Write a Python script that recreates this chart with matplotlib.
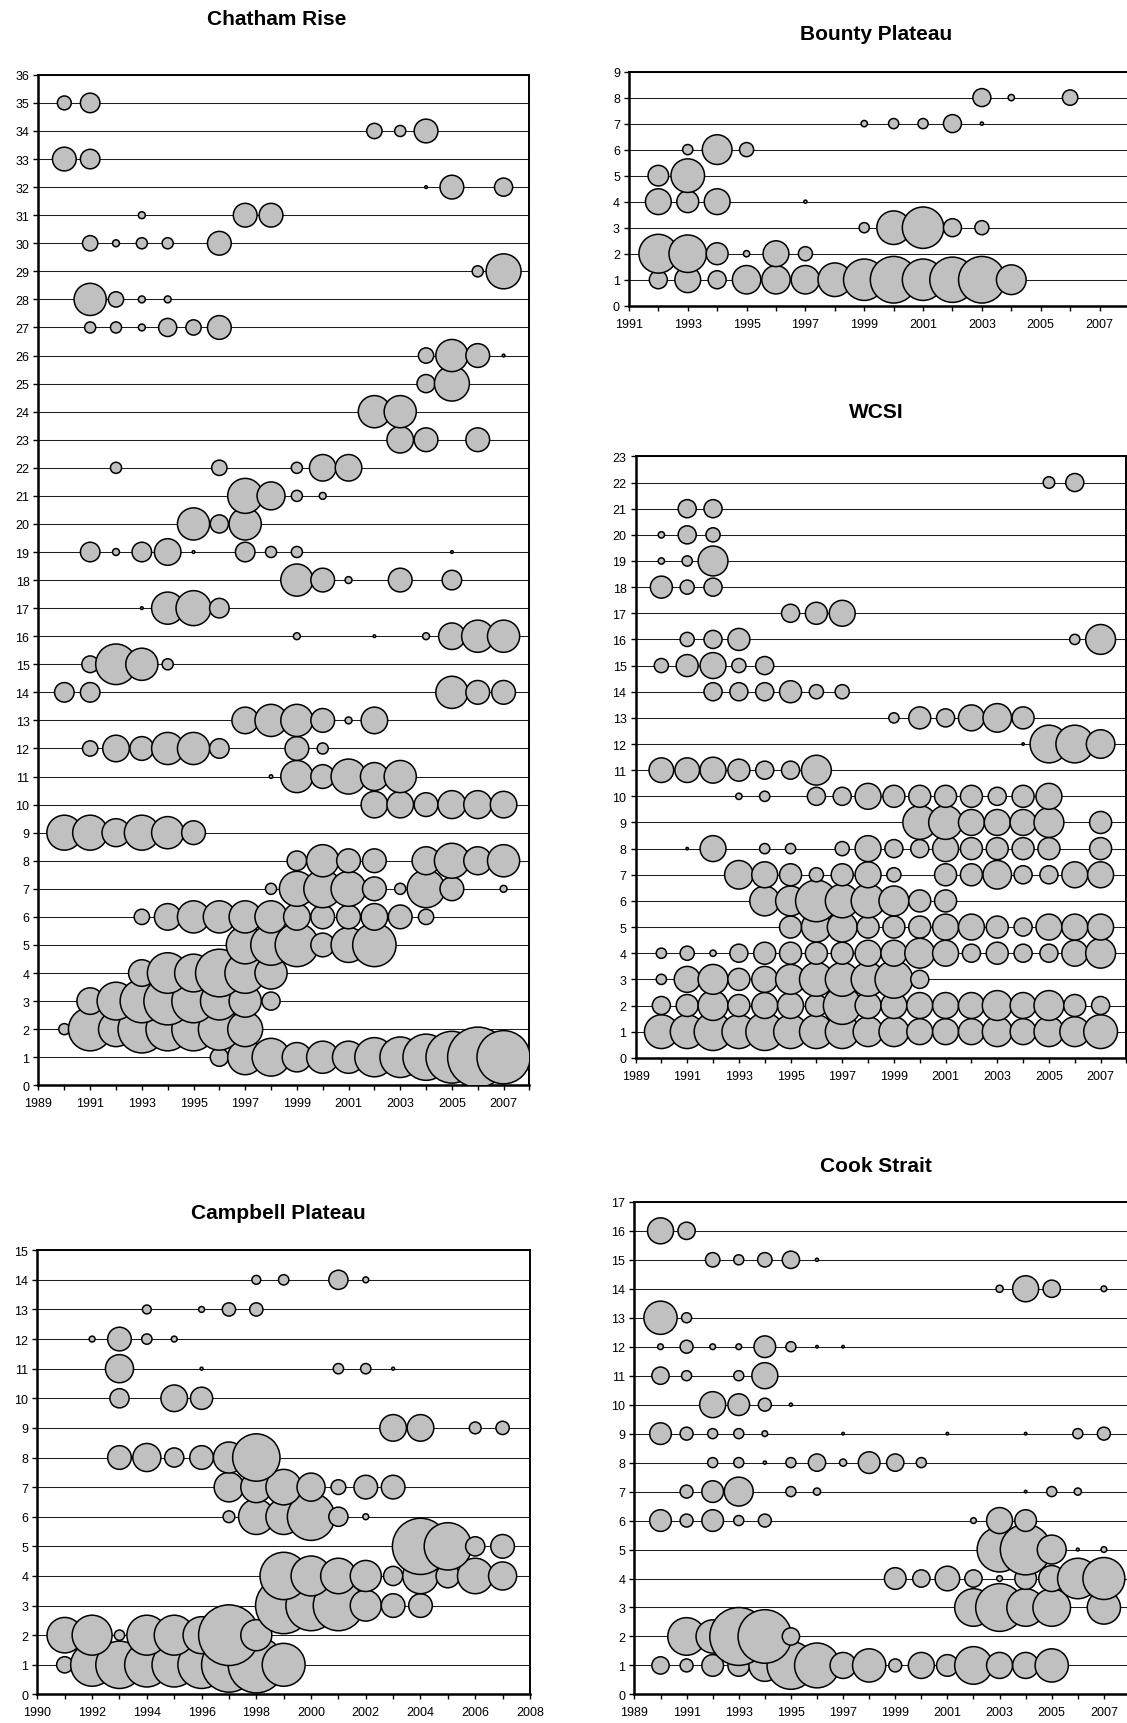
import matplotlib
matplotlib.use("Agg")
import matplotlib.pyplot as plt
from matplotlib.ticker import FixedLocator, FuncFormatter

plt.rcParams['font.family'] = ['Liberation Sans', 'DejaVu Sans']

DPI = 100
FILL = '#c0c0c0'
EDGE_LW = 1.1  # bubble outline, points

# ---------------------------------------------------------------------------
# Data: for each fishery, one list per vessel (vessel 1 first) giving the
# years fished and the relative catch (bubble width, tenths of a row).
# ---------------------------------------------------------------------------

chatham_years = [
    [1996, 1997, 1998, 1999, 2000, 2001, 2002, 2003, 2004, 2005, 2006, 2007],
    [1990, 1991, 1992, 1993, 1994, 1995, 1996, 1997],
    [1991, 1992, 1993, 1994, 1995, 1996, 1997, 1998],
    [1993, 1994, 1995, 1996, 1997, 1998],
    [1997, 1998, 1999, 2000, 2001, 2002],
    [1993, 1994, 1995, 1996, 1997, 1998, 1999, 2000, 2001, 2002, 2003, 2004],
    [1998, 1999, 2000, 2001, 2002, 2003, 2004, 2005, 2007],
    [1999, 2000, 2001, 2002, 2004, 2005, 2006, 2007],
    [1990, 1991, 1992, 1993, 1994, 1995],
    [2002, 2003, 2004, 2005, 2006, 2007],
    [1998, 1999, 2000, 2001, 2002, 2003],
    [1991, 1992, 1993, 1994, 1995, 1996, 1999, 2000],
    [1997, 1998, 1999, 2000, 2001, 2002],
    [1990, 1991, 2005, 2006, 2007],
    [1991, 1992, 1993, 1994],
    [1999, 2002, 2004, 2005, 2006, 2007],
    [1993, 1994, 1995, 1996],
    [1999, 2000, 2001, 2003, 2005],
    [1991, 1992, 1993, 1994, 1995, 1997, 1998, 1999, 2005],
    [1995, 1996, 1997],
    [1997, 1998, 1999, 2000],
    [1992, 1996, 1999, 2000, 2001],
    [2003, 2004, 2006],
    [2002, 2003],
    [2004, 2005],
    [2004, 2005, 2006, 2007],
    [1991, 1992, 1993, 1994, 1995, 1996],
    [1991, 1992, 1993, 1994],
    [2006, 2007],
    [1991, 1992, 1993, 1994, 1996],
    [1993, 1997, 1998],
    [2004, 2005, 2007],
    [1990, 1991],
    [2002, 2003, 2004],
    [1990, 1991],
]
chatham_catch = [
    [7, 13, 14, 11, 12, 12, 14.5, 15, 17, 19, 22, 19.5],
    [4.5, 16, 13, 17.5, 16, 16, 15.5, 13],
    [10, 14, 16, 17.5, 16, 14, 12, 7],
    [10, 15, 14, 17.5, 15, 12],
    [14, 15, 16, 9, 13, 16],
    [6, 10, 12, 12, 12, 12, 10, 9, 9, 10, 9, 6],
    [4.5, 13, 14, 13, 9, 4.5, 14, 9, 3],
    [7.5, 12, 9, 9, 10.5, 13, 10.5, 12],
    [13, 13, 10.5, 13, 12, 9],
    [10, 10, 9, 10.5, 10.5, 10],
    [1.8, 12, 9, 13, 10.5, 12],
    [6, 10, 9, 12, 12, 7.5, 9, 4.5],
    [10, 12, 12, 9, 3, 10],
    [7.5, 7.5, 12, 9, 9],
    [6.5, 15, 12, 4.5],
    [3, 1.5, 3, 10, 12, 12],
    [1.5, 12, 13, 7.5],
    [12, 9, 3, 9, 7.5],
    [7.5, 3, 7.5, 10, 1.5, 7.5, 4.5, 4.5, 1.5],
    [12, 7, 12],
    [13, 10.5, 4.5, 3],
    [4.5, 6, 4.5, 10, 10],
    [10, 9, 9],
    [12, 12],
    [7, 13],
    [6, 12, 9, 1.5],
    [4.5, 4.5, 3, 7, 6, 9],
    [12, 6, 3, 3],
    [4.5, 13],
    [6, 3, 4.5, 4.5, 9],
    [3, 9, 9],
    [1.5, 9, 7],
    [9, 7.5],
    [6, 4.5, 9],
    [5.5, 7.5],
]

bounty_years = [
    [1992, 1993, 1994, 1995, 1996, 1997, 1998, 1999, 2000, 2001, 2002, 2003, 2004],
    [1992, 1993, 1994, 1995, 1996, 1997],
    [1999, 2000, 2001, 2002, 2003],
    [1992, 1993, 1994, 1997],
    [1992, 1993],
    [1993, 1994, 1995],
    [1999, 2000, 2001, 2002, 2003],
    [2003, 2004, 2006],
]
bounty_catch = [
    [7.5, 10.5, 7.5, 11.5, 11.5, 11.5, 13.5, 16.5, 18.5, 16.5, 18, 18.5, 12],
    [15.5, 15, 9, 3, 10.5, 6],
    [4.5, 13.5, 16.5, 7.5, 6],
    [10.5, 9, 10.5, 1.8],
    [8.5, 13.5],
    [4.5, 12, 6],
    [3, 4.5, 4.5, 7.5, 1.8],
    [7.5, 3, 6.5],
]

wcsi_years = [
    list(range(1990, 2008)),
    list(range(1990, 2008)),
    list(range(1990, 2001)),
    list(range(1990, 2008)),
    list(range(1995, 2008)),
    list(range(1994, 2002)),
    [1993, 1994, 1995, 1996, 1997, 1998, 1999, 2001, 2002, 2003, 2004, 2005, 2006, 2007],
    [1991, 1992, 1994, 1995, 1997, 1998, 1999, 2000, 2001, 2002, 2003, 2004, 2005, 2007],
    [2000, 2001, 2002, 2003, 2004, 2005, 2007],
    [1993, 1994, 1996, 1997, 1998, 1999, 2000, 2001, 2002, 2003, 2004, 2005],
    [1990, 1991, 1992, 1993, 1994, 1995, 1996],
    [2004, 2005, 2006, 2007],
    [1999, 2000, 2001, 2002, 2003, 2004],
    [1992, 1993, 1994, 1995, 1996, 1997],
    [1990, 1991, 1992, 1993, 1994],
    [1991, 1992, 1993, 2006, 2007],
    [1995, 1996, 1997],
    [1990, 1991, 1992],
    [1990, 1991, 1992],
    [1990, 1991, 1992],
    [1991, 1992],
    [2005, 2006],
]
wcsi_catch = [
    [13.5, 13.5, 15, 13.5, 15, 13.5, 13.5, 13.5, 12, 12, 10.5, 10.5, 10.5, 12, 10.5, 12, 12, 13.5],
    [7.5, 9, 12, 9, 10.5, 10.5, 9, 15, 10.5, 10.5, 10.5, 10.5, 10.5, 12, 10.5, 12, 9, 7.5],
    [4.5, 10.5, 12, 9, 10.5, 12, 13.5, 13.5, 13.5, 15, 7.5],
    [4.5, 6, 3, 7.5, 9, 9, 9, 9, 10.5, 10.5, 12, 10.5, 7.5, 9, 7.5, 7.5, 10.5, 12],
    [9, 12, 12, 9, 9, 9, 10.5, 10.5, 9, 7.5, 10.5, 10.5, 10.5],
    [12, 12, 16.5, 13.5, 13.5, 12, 9, 9],
    [11.5, 10.5, 9, 6, 9, 10.5, 6, 9, 9, 11.5, 7.5, 7.5, 10.5, 10.5],
    [1.5, 10.5, 4.5, 4.5, 6, 10.5, 7.5, 7.5, 10.5, 9, 9, 9, 9, 9],
    [13.5, 13.5, 10.5, 10.5, 10.5, 12, 9],
    [3, 4.5, 7.5, 7.5, 10.5, 9, 9, 9, 9, 7.5, 9, 10.5],
    [10, 10, 10.5, 9, 7.5, 7.5, 12],
    [1.5, 15, 15, 11.5],
    [4.5, 9, 7.5, 10.5, 11.5, 9],
    [7.5, 7.5, 7.5, 9, 6, 6],
    [6, 9, 10.5, 6, 7.5],
    [6, 7.5, 9, 4.5, 12],
    [7.5, 9, 10.5],
    [9, 6, 7.5],
    [3, 4.5, 12],
    [3, 7.5, 6],
    [7.5, 7.5],
    [5, 7.5],
]

campbell_years = [
    [1991, 1992, 1993, 1994, 1995, 1996, 1997, 1998, 1999],
    [1991, 1992, 1993, 1994, 1995, 1996, 1997, 1998],
    [1999, 2000, 2001, 2002, 2003, 2004],
    [1999, 2000, 2001, 2002, 2003, 2004, 2005, 2006, 2007],
    [2004, 2005, 2006, 2007],
    [1997, 1998, 1999, 2000, 2001, 2002],
    [1997, 1998, 1999, 2000, 2001, 2002, 2003],
    [1993, 1994, 1995, 1996, 1997, 1998],
    [2003, 2004, 2006, 2007],
    [1993, 1995, 1996],
    [1993, 1996, 2001, 2002, 2003],
    [1992, 1993, 1994, 1995],
    [1994, 1996, 1997, 1998],
    [1998, 1999, 2001, 2002],
]
campbell_catch = [
    [6, 15, 16.5, 15.5, 15.5, 16.5, 19, 19.5, 15],
    [12.5, 14, 4, 14, 14, 13, 21, 11],
    [19.5, 17.5, 17.5, 11, 8.5, 8.5],
    [16.5, 14, 12.5, 11, 7, 12.5, 8.5, 12.5, 10],
    [19.5, 16.5, 7, 8.5],
    [4.5, 12.5, 12.5, 16.5, 7, 2.5],
    [10.5, 11, 12.5, 10, 5.5, 8.5, 8.5],
    [8.5, 10, 7, 8.5, 11, 16.5],
    [9.5, 9.5, 4.5, 5],
    [7, 9.5, 8],
    [10, 1.5, 4, 4, 1.5],
    [2.5, 8.5, 4, 2.5],
    [3.5, 2.5, 5, 5],
    [3.5, 4, 7, 2.5],
]

cook_years = [
    list(range(1990, 2006)),
    [1991, 1992, 1993, 1994, 1995],
    [2002, 2003, 2004, 2005, 2007],
    list(range(1999, 2008)),
    [2003, 2004, 2005, 2006, 2007],
    [1990, 1991, 1992, 1993, 1994, 2002, 2003, 2004],
    [1991, 1992, 1993, 1995, 1996, 2004, 2005, 2006],
    [1992, 1993, 1994, 1995, 1996, 1997, 1998, 1999, 2000],
    [1990, 1991, 1992, 1993, 1994, 1997, 2001, 2004, 2006, 2007],
    [1992, 1993, 1994, 1995],
    [1990, 1991, 1993, 1994],
    [1990, 1991, 1992, 1993, 1994, 1995, 1996, 1997],
    [1990, 1991],
    [2003, 2004, 2005, 2007],
    [1992, 1993, 1994, 1995, 1996],
    [1990, 1991],
]
cook_catch = [
    [6.5, 5, 8, 8, 11.5, 17, 16, 9.5, 12, 5, 9.5, 8, 13.5, 9.5, 9.5, 12],
    [13.5, 12, 20.5, 19, 6.5],
    [13.5, 17, 13.5, 13.5, 12],
    [8, 6.5, 9, 6.5, 2.5, 8, 9.5, 14.5, 15],
    [16, 18, 10.5, 1.5, 2.5],
    [8, 5, 8, 4, 5, 2.5, 9.5, 8],
    [5, 8, 10.5, 4, 3, 1.4, 4, 3],
    [4, 4, 1.6, 4, 6.5, 3, 8, 6.5, 4],
    [8, 5, 4, 4, 2.5, 1.4, 1.4, 1.4, 4, 5],
    [9.5, 8, 5, 1.6],
    [6.5, 4, 4, 9.5],
    [2.5, 5, 2.5, 2.5, 8, 4, 1.4, 1.4],
    [12, 4],
    [3, 9.5, 6.5, 2.5],
    [5.5, 4, 5.5, 6.5, 1.6],
    [9.5, 6.5],
]

odd_years = list(range(1989, 2008, 2))
bounty_labels = list(range(1991, 2008, 2))
even_years = list(range(1990, 2009, 2))

# ---------------------------------------------------------------------------

fig = plt.figure(figsize=(11.27, 17.24), dpi=DPI)
fig.patch.set_facecolor('white')


def bubble_panel(rect, title, title_xy, years, catch, xlim, labelled, ymax):
    ax = fig.add_axes(rect)
    ax.set_xlim(*xlim)
    ax.set_ylim(0, ymax)

    # x ticks every year, labels only on chosen years
    ax.xaxis.set_major_locator(FixedLocator(list(range(xlim[0], xlim[1] + 1))))
    ax.xaxis.set_major_formatter(
        FuncFormatter(lambda v, p: str(int(round(v))) if int(round(v)) in labelled else ''))
    ax.yaxis.set_major_locator(FixedLocator(list(range(0, ymax + 1))))
    ax.yaxis.set_major_formatter(FuncFormatter(lambda v, p: str(int(round(v)))))

    ax.tick_params(axis='both', direction='out', length=3.5, width=1.0,
                   labelsize=9, colors='black')
    ax.tick_params(axis='y', pad=3)
    ax.tick_params(axis='x', pad=5)

    ax.set_axisbelow(True)
    ax.yaxis.grid(True, color='#1e1e1e', linewidth=0.75)
    ax.xaxis.grid(False)

    for side in ('left', 'bottom'):
        ax.spines[side].set_linewidth(1.8)
    for side in ('top', 'right'):
        ax.spines[side].set_linewidth(1.4)

    # size of one row on screen, used to turn catch into bubble widths
    p0 = ax.transData.transform((xlim[0], 0))
    p1 = ax.transData.transform((xlim[0], 1))
    row_pt = (p1[1] - p0[1]) * 72.0 / DPI

    for vessel, (yrs, cat) in enumerate(zip(years, catch), start=1):
        sizes = [max(c / 10.0 * row_pt - EDGE_LW, 1.2) ** 2 for c in cat]
        ax.scatter(yrs, [vessel] * len(yrs), s=sizes, c=FILL,
                   edgecolors='black', linewidths=EDGE_LW, zorder=3)

    fig.text(title_xy[0], title_xy[1], title, ha='center', va='center',
             fontsize=15, fontweight='bold')
    return ax


bubble_panel([0.03415, 0.36990, 0.43560, 0.58610], 'Chatham Rise',
             (0.2459, 0.9885), chatham_years, chatham_catch,
             (1989, 2008), odd_years, 36)

bubble_panel([0.55805, 0.82207, 0.44366, 0.13584], 'Bounty Plateau',
             (0.7776, 0.9802), bounty_years, bounty_catch,
             (1991, 2008), bounty_labels, 9)

bubble_panel([0.56390, 0.38584, 0.43561, 0.34885], 'WCSI',
             (0.7776, 0.7608), wcsi_years, wcsi_catch,
             (1989, 2008), odd_years, 23)

bubble_panel([0.03317, 0.016582, 0.43707, 0.25765], 'Campbell Plateau',
             (0.2468, 0.2959), campbell_years, campbell_catch,
             (1990, 2008), even_years, 15)

bubble_panel([0.56293, 0.016582, 0.43970, 0.28571], 'Cook Strait',
             (0.7776, 0.3233), cook_years, cook_catch,
             (1989, 2008), odd_years, 17)

fig.savefig('out.png', dpi=DPI, facecolor='white')
